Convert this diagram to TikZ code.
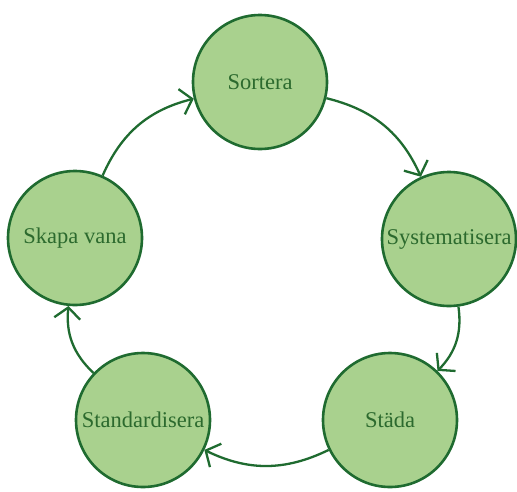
\documentclass[tikz,border=0pt]{standalone}
\usepackage{fontspec}
\setmainfont{Liberation Serif}
\definecolor{CycleFill}{HTML}{A9D18E}
\definecolor{CycleLine}{HTML}{1F6B30}
\definecolor{CycleText}{HTML}{2C6A2E}
\usetikzlibrary{arrows.meta}

\tikzset{
  stage/.style={
    circle,
    fill=CycleFill,
    draw=CycleLine,
    line width=2.6pt,
    minimum size=134pt,
    inner sep=0pt,
    text=CycleText,
    font=\fontsize{22.5}{26}\selectfont
  },
  cyclearrow/.style={
    draw=CycleLine,
    line width=2.3pt,
    -{Straight Barb[length=11pt,width=26pt,line width=2.3pt]},
    bend left=26
  }
}

\begin{document}
\begin{tikzpicture}[x=1pt,y=-1pt]
    \useasboundingbox (0,0) rectangle (517,491);

    \node[stage] (sortera) at (260,82) {Sortera};
    \node[stage] (syst) at (449,239) {Systematisera};
    \node[stage] (stada) at (390,420) {Städa};
    \node[stage] (standard) at (143,420) {Standardisera};
    \node[stage] (skapa) at (75,238) {Skapa vana};

    \draw[cyclearrow] (sortera) to (syst);
    \draw[cyclearrow] (syst) to (stada);
    \draw[cyclearrow] (stada) to (standard);
    \draw[cyclearrow] (standard) to (skapa);
    \draw[cyclearrow] (skapa) to (sortera);
  \end{tikzpicture}
\end{document}
